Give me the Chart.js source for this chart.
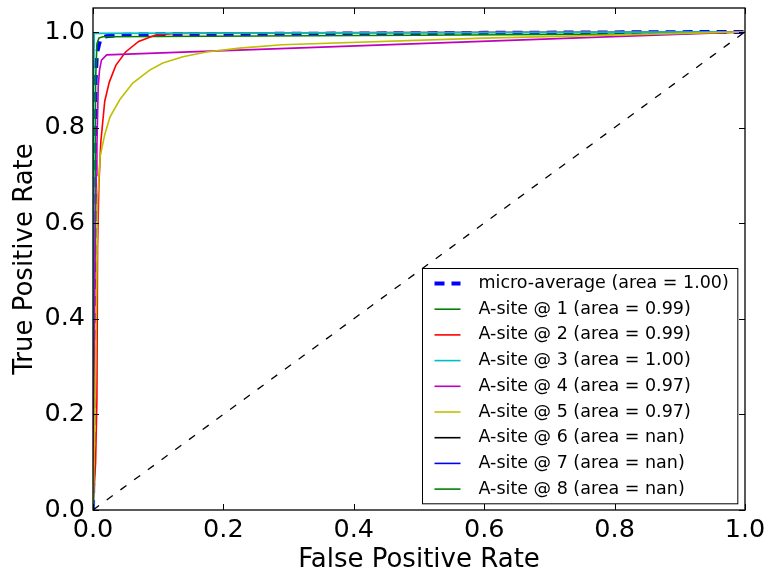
<!DOCTYPE html>
<html lang="en">
<head>
<meta charset="UTF-8">
<title>ROC curves</title>
<script src="https://cdn.jsdelivr.net/npm/chart.js"></script>
<style>
  body { margin: 0; background: #fff; }
</style>
</head>
<body>
<canvas id="roc" width="769" height="577"></canvas>
<script>
// values (fpr / tpr pairs per curve)
const microFpr = [0, 0.002, 0.003, 0.004, 0.006, 0.011, 0.02, 0.05, 0.1, 0.3, 0.6, 1.0];
const microTpr = [0, 0.4, 0.75, 0.9, 0.955, 0.983, 0.991, 0.994, 0.995, 0.996, 0.998, 1.0];

const site1Fpr = [0, 0.003, 0.004, 0.006, 0.009, 0.015, 0.5, 0.9, 1.0];
const site1Tpr = [0, 0.6, 0.9, 0.975, 0.987, 0.99, 0.993, 0.996, 1.0];

const site2Fpr = [0, 0.004, 0.006, 0.007, 0.009, 0.012, 0.018, 0.025, 0.035, 0.05, 0.07, 0.095, 0.125, 0.3, 1.0];
const site2Tpr = [0, 0.1, 0.23, 0.55, 0.68, 0.77, 0.855, 0.895, 0.93, 0.958, 0.98, 0.993, 0.997, 0.998, 1.0];

const site3Fpr = [0, 0.001, 0.002, 1.0];
const site3Tpr = [0, 0.9, 0.997, 1.0];

const site4Fpr = [0, 0.003, 0.005, 0.006, 0.008, 0.01, 0.013, 0.021, 1.0];
const site4Tpr = [0, 0.5, 0.7, 0.76, 0.885, 0.92, 0.941, 0.952, 1.0];

const site5Fpr = [0, 0.003, 0.006, 0.007, 0.011, 0.018, 0.026, 0.041, 0.061, 0.087, 0.107, 0.138, 0.174, 0.225, 0.29, 0.6, 1.0];
const site5Tpr = [0, 0.2, 0.51, 0.65, 0.74, 0.785, 0.822, 0.858, 0.893, 0.92, 0.935, 0.948, 0.958, 0.966, 0.973, 0.987, 1.0];

const chanceFpr = [0, 1];
const chanceTpr = [0, 1];

const labels = [
  'micro-average (area = 1.00)',
  'A-site @ 1 (area = 0.99)',
  'A-site @ 2 (area = 0.99)',
  'A-site @ 3 (area = 1.00)',
  'A-site @ 4 (area = 0.97)',
  'A-site @ 5 (area = 0.97)',
  'A-site @ 6 (area = nan)',
  'A-site @ 7 (area = nan)',
  'A-site @ 8 (area = nan)'
];
const colors = ['#0000ff', '#008000', '#ff0000', '#00bfbf', '#bf00bf', '#bfbf00', '#000000', '#0000ff', '#008000'];

const xTicks = [0, 0.2, 0.4, 0.6, 0.8, 1.0];
const yTicks = [0, 0.2, 0.4, 0.6, 0.8, 1.0];

const FONT = 'DejaVu Sans';

function pts(xs, ys) {
  return xs.map((x, i) => ({ x: x, y: ys[i] }));
}

const curves = [
  pts(microFpr, microTpr),
  pts(site1Fpr, site1Tpr),
  pts(site2Fpr, site2Tpr),
  pts(site3Fpr, site3Tpr),
  pts(site4Fpr, site4Tpr),
  pts(site5Fpr, site5Tpr),
  [], [], []   // nan classes: legend only
];

const datasets = curves.map((d, i) => ({
  label: labels[i],
  data: d,
  borderColor: colors[i],
  borderWidth: i === 0 ? 4 : 1.6,
  borderDash: i === 0 ? [10, 7] : [],
  pointRadius: 0,
  tension: 0,
  fill: false,
  order: 20 - i
}));
datasets.push({
  label: 'chance',
  data: pts(chanceFpr, chanceTpr),
  borderColor: '#000',
  borderWidth: 1.3,
  borderDash: [7.5, 9.5],
  pointRadius: 0,
  fill: false,
  order: 1,
  noLegend: true
});

// frame + inward tick marks on all four sides, like the old matplotlib style
const framePlugin = {
  id: 'frame',
  afterDatasetsDraw(chart) {
    const ctx = chart.ctx;
    const a = chart.chartArea;
    const xs = chart.scales.x, ys = chart.scales.y;
    const len = 6;
    ctx.save();
    ctx.strokeStyle = '#000';
    ctx.lineWidth = 1;
    ctx.beginPath();
    xTicks.forEach(v => {
      const px = Math.round(xs.getPixelForValue(v)) + 0.5;
      ctx.moveTo(px, a.bottom); ctx.lineTo(px, a.bottom - len);
      ctx.moveTo(px, a.top); ctx.lineTo(px, a.top + len);
    });
    yTicks.forEach(v => {
      const py = Math.round(ys.getPixelForValue(v)) + 0.5;
      ctx.moveTo(a.left, py); ctx.lineTo(a.left + len, py);
      ctx.moveTo(a.right, py); ctx.lineTo(a.right - len, py);
    });
    ctx.stroke();
    ctx.lineWidth = 1.3;
    ctx.strokeRect(a.left, a.top, a.right - a.left, a.bottom - a.top);

    // legend box, lower right
    const items = chart.data.datasets.filter(d => !d.noLegend);
    ctx.font = '17.5px "' + FONT + '"';
    let maxW = 0;
    items.forEach(d => { maxW = Math.max(maxW, ctx.measureText(d.label).width); });
    const rowH = 25.7;
    const boxW = 56 + maxW + 9;
    const boxH = rowH * items.length + 4;
    const bx = Math.round(a.right - 8 - boxW) + 0.5;
    const by = Math.round(a.bottom - 7 - boxH) + 0.5;
    ctx.fillStyle = '#fff';
    ctx.fillRect(bx, by, boxW, boxH);
    ctx.lineWidth = 1;
    ctx.strokeStyle = '#000';
    ctx.strokeRect(bx, by, boxW, boxH);
    ctx.textBaseline = 'middle';
    items.forEach((d, i) => {
      const cy = by + 15 + i * rowH;
      ctx.save();
      ctx.strokeStyle = d.borderColor;
      ctx.lineWidth = d.borderWidth;
      ctx.setLineDash(d.borderDash || []);
      ctx.beginPath();
      ctx.moveTo(bx + 12, cy);
      ctx.lineTo(bx + 38, cy);
      ctx.stroke();
      ctx.restore();
      ctx.fillStyle = '#000';
      ctx.fillText(d.label, bx + 56, cy);
    });
    ctx.restore();
  }
};

new Chart(document.getElementById('roc'), {
  type: 'line',
  data: { datasets: datasets },
  options: {
    responsive: false,
    animation: false,
    devicePixelRatio: 1,
    layout: { padding: { left: 0, top: 8, right: 24, bottom: 0 } },
    plugins: { legend: { display: false }, tooltip: { enabled: false } },
    scales: {
      x: {
        type: 'linear',
        min: 0, max: 1,
        afterBuildTicks: s => { s.ticks = xTicks.map(v => ({ value: v })); },
        afterFit: s => { s.height = 67; s.paddingLeft = 0; s.paddingRight = 0; },
        ticks: {
          callback: v => v.toFixed(1),
          font: { family: FONT, size: 25.5 },
          color: '#000',
          padding: 5,
          maxRotation: 0
        },
        grid: { display: false, drawTicks: false },
        border: { display: false },
        title: {
          display: true,
          text: 'False Positive Rate',
          font: { family: FONT, size: 26 },
          color: '#000',
          padding: { top: 0, bottom: 1 }
        }
      },
      y: {
        type: 'linear',
        min: 0, max: 1.05,
        afterBuildTicks: s => { s.ticks = yTicks.map(v => ({ value: v })); },
        afterFit: s => { s.width = 93; s.paddingTop = 0; s.paddingBottom = 0; },
        ticks: {
          callback: v => v.toFixed(1),
          font: { family: FONT, size: 25.5 },
          color: '#000',
          padding: 8
        },
        grid: { display: false, drawTicks: false },
        border: { display: false },
        title: {
          display: true,
          text: 'True Positive Rate',
          font: { family: FONT, size: 26 },
          color: '#000',
          padding: { top: 10, bottom: 0 }
        }
      }
    }
  },
  plugins: [framePlugin]
});
</script>
</body>
</html>
